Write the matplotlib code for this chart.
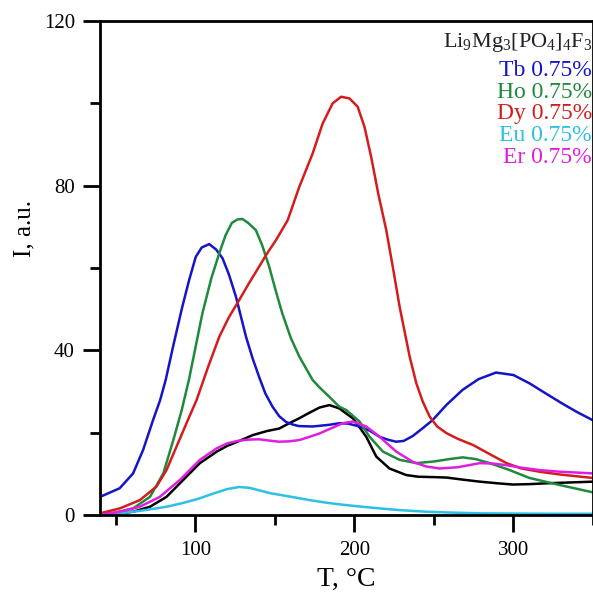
import matplotlib.pyplot as plt

plt.rcParams['font.family'] = ['Liberation Serif', 'DejaVu Serif']
plt.rcParams['mathtext.fontset'] = 'custom'
plt.rcParams['mathtext.rm'] = 'Liberation Serif'
plt.rcParams['mathtext.it'] = 'Liberation Serif'

# Tb 0.75%
tb_t = [40, 52.4, 60.8, 67.1, 73.4, 77.8, 81.3, 86, 91.7, 96, 100.2, 104, 108.7, 113, 117, 121, 125.5,
        131.8, 136, 140, 144, 148.5, 152.7, 157, 161, 165, 173.7, 184, 190.5, 196, 203.2, 209.5, 215.8,
        221, 226.3, 231, 236.7, 242, 249, 258, 268, 278, 289, 300, 310, 320, 331, 340, 350]
tb_i = [4.4, 6.5, 10.1, 15.8, 23.1, 27.9, 32.8, 41, 50.5, 57, 62.7, 65, 65.8, 64.5, 62.4, 58.5, 53,
        43.3, 38, 33.6, 29.5, 26.3, 24, 22.6, 22, 21.6, 21.5, 21.9, 22.3, 22.2, 21.5, 20.5, 19,
        18.3, 17.8, 18, 19.2, 20.8, 23, 26.8, 30.4, 33, 34.6, 34, 32, 29.6, 27, 25, 23]

# Ho 0.75%
ho_t = [40, 50, 60.8, 71.4, 79.8, 86.1, 91.4, 96, 104.4, 110, 115, 119, 123, 126.5, 129.6, 133, 138,
        142, 146.4, 150.5, 154.6, 160, 165.3, 173.7, 178, 184.2, 190.5, 194.8, 203.2, 209.5, 217.9,
        228.4, 238.9, 250, 260, 268, 276, 285, 297, 310, 330, 350]
ho_i = [0.2, 0.6, 1.6, 4.4, 10.1, 18.2, 25.5, 33, 49, 57.5, 63.6, 68, 71, 71.8, 71.9, 71, 69.2,
        65.5, 60.3, 54.5, 49, 43, 38.5, 32.8, 31, 28.7, 26.3, 25.5, 22.7, 19, 15.4,
        13.4, 12.6, 13, 13.6, 14, 13.6, 12.6, 11, 9, 7.2, 5.5]

# Dy 0.75%
dy_t = [40, 52.4, 65, 75.5, 81.8, 88.1, 94.4, 100.7, 108, 115, 121, 127.5, 134, 140, 145, 150.7, 158,
        165.3, 173.7, 180, 186.3, 191.6, 196.8, 202, 206.3, 210.5, 215, 220, 224.1, 228.4, 234.7,
        238.9, 243, 247.3, 252, 257.8, 265, 274.6, 285, 295.6, 305, 316.6, 330, 350]
dy_i = [0.4, 1.6, 3.6, 6.9, 10.9, 16.6, 22.3, 27.9, 36, 43.3, 48, 52.2, 56.5, 60.3, 63.5, 66.8, 71.6,
        79.7, 87.8, 95.1, 100, 101.6, 101.2, 99.2, 94.3, 87, 78, 69.2, 60.3, 50.6, 38.5,
        32, 27.5, 23.9, 21.5, 19.9, 18.5, 17, 14.8, 12.6, 11.3, 10.5, 9.8, 9]

# Eu 0.75%
eu_t = [40, 52, 65, 81.8, 92, 102.3, 112, 120, 127.5, 134, 140, 147, 153, 162, 172, 184, 195, 205,
        216, 228, 245, 260, 280, 300, 325, 350]
eu_i = [0, 0.4, 1.0, 2.0, 2.9, 4.0, 5.3, 6.3, 6.8, 6.6, 6.0, 5.3, 4.9, 4.3, 3.6, 2.9, 2.4, 2.0,
        1.6, 1.2, 0.8, 0.6, 0.4, 0.35, 0.3, 0.3]

# Er 0.75%
er_t = [40, 52.4, 65, 77.6, 90.2, 102.8, 113.4, 120, 126.5, 133, 140, 146, 152.7, 159, 165.3, 171,
        178, 185, 192.6, 199, 207.4, 215.8, 226.3, 236.7, 245, 253.6, 265, 278.8, 287, 295.6, 305,
        316.6, 330, 350]
er_i = [0, 0.8, 2.0, 4.4, 8.5, 13.4, 16.2, 17.4, 18, 18.3, 18.4, 18.1, 17.8, 17.9, 18.2, 18.9,
        19.8, 21, 22.3, 22.7, 21.5, 19, 15.4, 12.9, 11.8, 11.3, 11.6, 12.6, 12.5, 12.1, 11.5,
        10.9, 10.5, 10.1]

# black curve (no label)
bk_t = [40, 50, 60.8, 71.4, 81.8, 92.3, 102.8, 113.4, 120, 126.5, 136, 145, 152.7, 159, 165.3, 171,
        178, 184.2, 190.5, 195, 199, 203, 207.4, 213.7, 222, 232.6, 240, 250, 257.8, 268, 278.8,
        290, 299.6, 310, 320.8, 335, 350]
bk_i = [0, 0.3, 0.8, 2.0, 4.4, 8.5, 12.6, 15.4, 16.8, 17.8, 19.4, 20.4, 21, 22.3, 23.5, 24.7,
        26.1, 26.7, 25.9, 24.6, 23.5, 21.4, 19, 14.2, 11.3, 9.7, 9.3, 9.2, 9.1, 8.6, 8.1,
        7.7, 7.4, 7.5, 7.7, 7.9, 8.1]

series = [
    (tb_t, tb_i, '#1414c8', 'Tb 0.75%'),
    (ho_t, ho_i, '#1f8a3c', 'Ho 0.75%'),
    (dy_t, dy_i, '#d41c1c', 'Dy 0.75%'),
    (eu_t, eu_i, '#2cc0e4', 'Eu 0.75%'),
    (er_t, er_i, '#e01ee0', 'Er 0.75%'),
]

fig = plt.figure(figsize=(5.93, 5.93), dpi=100)
ax = fig.add_axes([100 / 593, 78 / 593, 493 / 593, 494 / 593])

ax.plot(bk_t, bk_i, color='black', lw=1.8)
for t, i, c, lab in series:
    ax.plot(t, i, color=c, lw=1.8)

ax.set_xlim(40, 350)
ax.set_ylim(0, 120)
ax.set_xticks([100, 200, 300])
ax.set_xticks([50, 150, 250, 350], minor=True)
ax.set_yticks([0, 40, 80, 120])
ax.set_yticks([20, 60, 100], minor=True)
ax.tick_params(direction='out', length=12, width=2, labelsize=15)
ax.tick_params(axis='x', pad=7)
ax.tick_params(axis='y', pad=6)
ax.tick_params(which='minor', direction='out', length=7, width=2)
for s in ax.spines.values():
    s.set_linewidth(2)

ax.set_xlabel('T, °C', fontsize=20)
ax.xaxis.set_label_coords(0.5, -0.105)
ax.set_ylabel('I, a.u.', fontsize=18)
ax.yaxis.set_label_coords(-0.13, 0.58)

# legend written as coloured text, pushed against the right edge
ax.text(0.998, 0.957, r'Li$_9$Mg$_3$[PO$_4$]$_4$F$_3$', transform=ax.transAxes,
        ha='right', va='center', fontsize=16, color='#222222')
for k, (t, i, c, lab) in enumerate(series):
    ax.text(0.998, 0.9 - k * 0.044, lab, transform=ax.transAxes,
            ha='right', va='center', fontsize=17, color=c)

fig.savefig('out.png', dpi=100)
